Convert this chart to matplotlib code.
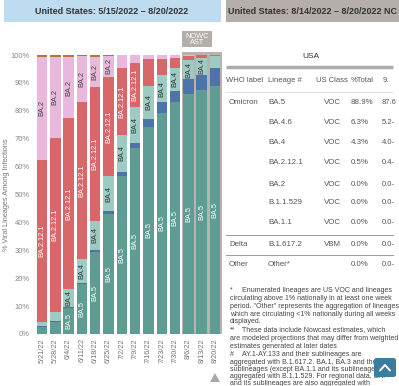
import numpy as np
import matplotlib
matplotlib.use('Agg')
import matplotlib.pyplot as plt
from matplotlib.patches import Rectangle, FancyBboxPatch, Polygon

plt.rcParams['font.family'] = ['Liberation Sans', 'DejaVu Sans']

W, H = 399, 386

# weekly variant proportions (%)
weeks = ['5/21/22', '5/28/22', '6/4/22', '6/11/22', '6/18/22', '6/25/22', '7/2/22',
         '7/9/22', '7/16/22', '7/23/22', '7/30/22', '8/6/22', '8/13/22', '8/20/22']
ba5 = [2.5, 4.4, 9.4, 17.8, 29.3, 43.0, 56.6, 66.5, 74.2, 79.2, 83.2, 86.0, 87.5, 88.9]
ba46 = [0.3, 0.2, 0.3, 0.6, 0.8, 1.1, 1.5, 1.9, 2.9, 3.9, 4.0, 5.4, 5.4, 6.3]
ba4 = [1.5, 3.4, 6.3, 8.4, 10.5, 12.5, 13.2, 12.9, 11.8, 9.7, 8.1, 6.8, 6.0, 4.3]
ba2121 = [58.1, 62.4, 61.3, 56.5, 48.0, 35.6, 23.9, 15.7, 9.7, 5.8, 3.6, 1.5, 1.0, 0.5]
ba2 = [37.0, 29.0, 22.1, 16.2, 10.8, 7.6, 4.7, 2.9, 1.3, 1.3, 1.1, 0.3, 0.1, 0.0]
other = [0.6, 0.6, 0.6, 0.5, 0.6, 0.2, 0.1, 0.1, 0.1, 0.1, 0.0, 0.0, 0.0, 0.0]
n_nowcast = 3

# table for the latest week (last column is cut off in the screenshot)
who = ['Omicron', '', '', '', '', '', '', 'Delta', 'Other']
lineages = ['BA.5', 'BA.4.6', 'BA.4', 'BA.2.12.1', 'BA.2', 'B.1.1.529', 'BA.1.1', 'B.1.617.2', 'Other*']
us_class = ['VOC', 'VOC', 'VOC', 'VOC', 'VOC', 'VOC', 'VOC', 'VBM', '']
pct_total = ['88.9%', '6.3%', '4.3%', '0.5%', '0.0%', '0.0%', '0.0%', '0.0%', '0.0%']
pi95 = ['87.6', '5.2-', '4.0-', '0.4-', '0.0-', '0.0-', '0.0-', '0.0-', '0.0-']

notes = [
    ('*', 'Enumerated lineages are US VOC and lineages'),
    ('', 'circulating above 1% nationally in at least one week'),
    ('', 'period. "Other" represents the aggregation of lineages'),
    ('', 'which are circulating <1% nationally during all weeks'),
    ('', 'displayed.'),
    ('**', 'These data include Nowcast estimates, which'),
    ('', 'are modeled projections that may differ from weighted'),
    ('', 'estimates generated at later dates'),
    ('#', 'AY.1-AY.133 and their sublineages are'),
    ('', 'aggregated with B.1.617.2. BA.1, BA.3 and their'),
    ('', 'sublineages (except BA.1.1 and its sublineages)'),
    ('', 'aggregated with B.1.1.529. For regional data, BA.'),
    ('', 'and its sublineages are also aggregated with'),
]

series = [
    ('BA.5', ba5, '#5e9d93', 'white', 5.5),
    ('BA.4.6', ba46, '#4c74aa', 'white', 999),
    ('BA.4', ba4, '#9bcbc2', '#333333', 5.5),
    ('BA.2.12.1', ba2121, '#d9676a', 'white', 12),
    ('BA.2', ba2, '#eab8dc', '#444444', 6),
    ('Other', other, '#c0703c', 'white', 999),
]

fig = plt.figure(figsize=(W / 100, H / 100), dpi=100)

# ---- stacked bar chart ----
ax = fig.add_axes([35.35 / W, 1 - 334 / H, 186.3 / W, 279 / H])
x = np.arange(len(weeks))
ax.add_patch(Rectangle((len(weeks) - n_nowcast - 0.5, 0), n_nowcast, 101.2,
                       color='#b9b3b0', zorder=0, clip_on=False, lw=0))
bottom = np.zeros(len(weeks))
for name, vals, col, tcol, thr in series:
    vals = np.array(vals)
    ax.bar(x, vals, bottom=bottom, width=0.79, color=col, linewidth=0, zorder=2)
    for i in range(len(weeks)):
        if vals[i] >= thr:
            ax.text(x[i], bottom[i] + vals[i] / 2, name, rotation=90, ha='center',
                    va='center', fontsize=5.3, color=tcol, zorder=3)
    bottom += vals

ax.set_xlim(-0.5, len(weeks) - 0.5)
ax.set_ylim(0, 100)
ax.set_yticks(range(0, 101, 10))
ax.set_yticklabels([f'{v}%' for v in range(0, 101, 10)])
ax.set_xticks(x)
ax.set_xticklabels(weeks, rotation=90)
ax.tick_params(axis='y', length=0, pad=4, labelsize=5.5, labelcolor='#888888')
ax.tick_params(axis='x', length=0, pad=3, labelsize=5.3, labelcolor='#777777')
for s in ax.spines.values():
    s.set_visible(False)

# ---- everything else drawn in pixel coordinates ----
ov = fig.add_axes([0, 0, 1, 1], zorder=5)
ov.set_xlim(0, W)
ov.set_ylim(H, 0)
ov.axis('off')

ov.add_patch(Rectangle((4, 0), 217, 22, color='#bddcf0', lw=0))
ov.text(112, 11, 'United States: 5/15/2022 \u2013 8/20/2022', ha='center', va='center',
        fontsize=6.45, fontweight='bold', color='#333333')
ov.add_patch(Rectangle((226, 0), 173, 22, color='#b5aeab', lw=0))
ov.text(228, 11, 'United States: 8/14/2022 \u2013 8/20/2022 NC', ha='left',
        va='center', fontsize=6.45, fontweight='bold', color='#333333')

ov.add_patch(Rectangle((182, 31), 30, 16, color='#b5aeab', lw=0))
ov.text(197, 39.5, 'NOWC\nAST', ha='center', va='center', fontsize=5.3, color='white',
        linespacing=1.0)

ov.text(7, 195, '% Viral Lineages Among Infections', rotation=90, ha='center',
        va='center', fontsize=5.3, color='#777777')
ov.add_patch(Polygon([(210, 382), (220, 382), (215, 373)], color='#a9a9a9', lw=0))

# table
ov.text(311, 56, 'USA', ha='center', va='center', fontsize=6, color='#333333')
ov.plot([226, 393], [67, 67], color='#b0aaa8', lw=2.5, solid_capstyle='butt')
hdr_y = 81
for hx, label in [(226, 'WHO label'), (268, 'Lineage #'), (316, 'US Class'),
                  (351, '%Total'), (383, '9.')]:
    ov.text(hx, hdr_y, label, ha='left', va='center', fontsize=5.5, color='#555555')
ov.plot([226, 393], [92, 92], color='#dddddd', lw=0.6)

row_y = [102, 123, 143, 163, 184, 203, 223, 245, 265]
for i, ry in enumerate(row_y):
    ov.text(229, ry, who[i], ha='left', va='center', fontsize=5.7, color='#555555')
    ov.text(268, ry, lineages[i], ha='left', va='center', fontsize=5.7, color='#555555')
    ov.text(332, ry, us_class[i], ha='center', va='center', fontsize=5.7, color='#555555')
    ov.text(351, ry, pct_total[i], ha='left', va='center', fontsize=5.7, color='#555555')
    ov.text(382, ry, pi95[i], ha='left', va='center', fontsize=5.5, color='#555555')
for ly in [235, 255]:
    ov.plot([226, 393], [ly, ly], color='#999999', lw=0.7)

# footnotes
note_y = [290, 298.3, 306.7, 314.3, 321.7, 330, 338.3, 346.7, 354.3, 362.3, 369.3, 376.7, 383.3]
for (mark, line), ny in zip(notes, note_y):
    if mark:
        ov.text(230, ny, mark, ha='left', va='center', fontsize=5.0, color='#444444')
        xs = 242
    else:
        xs = 230
    ov.text(xs, ny, line, ha='left', va='center', fontsize=5.0, color='#444444')

ov.add_patch(FancyBboxPatch((374, 358), 22, 19, boxstyle='round,pad=0,rounding_size=2.5',
                            color='#3b7d9c', lw=0, zorder=6))
ov.plot([380, 385, 390], [370.5, 365, 370.5], color='white', lw=1.4, zorder=7,
        solid_capstyle='round')

fig.savefig('out.png', dpi=100)
